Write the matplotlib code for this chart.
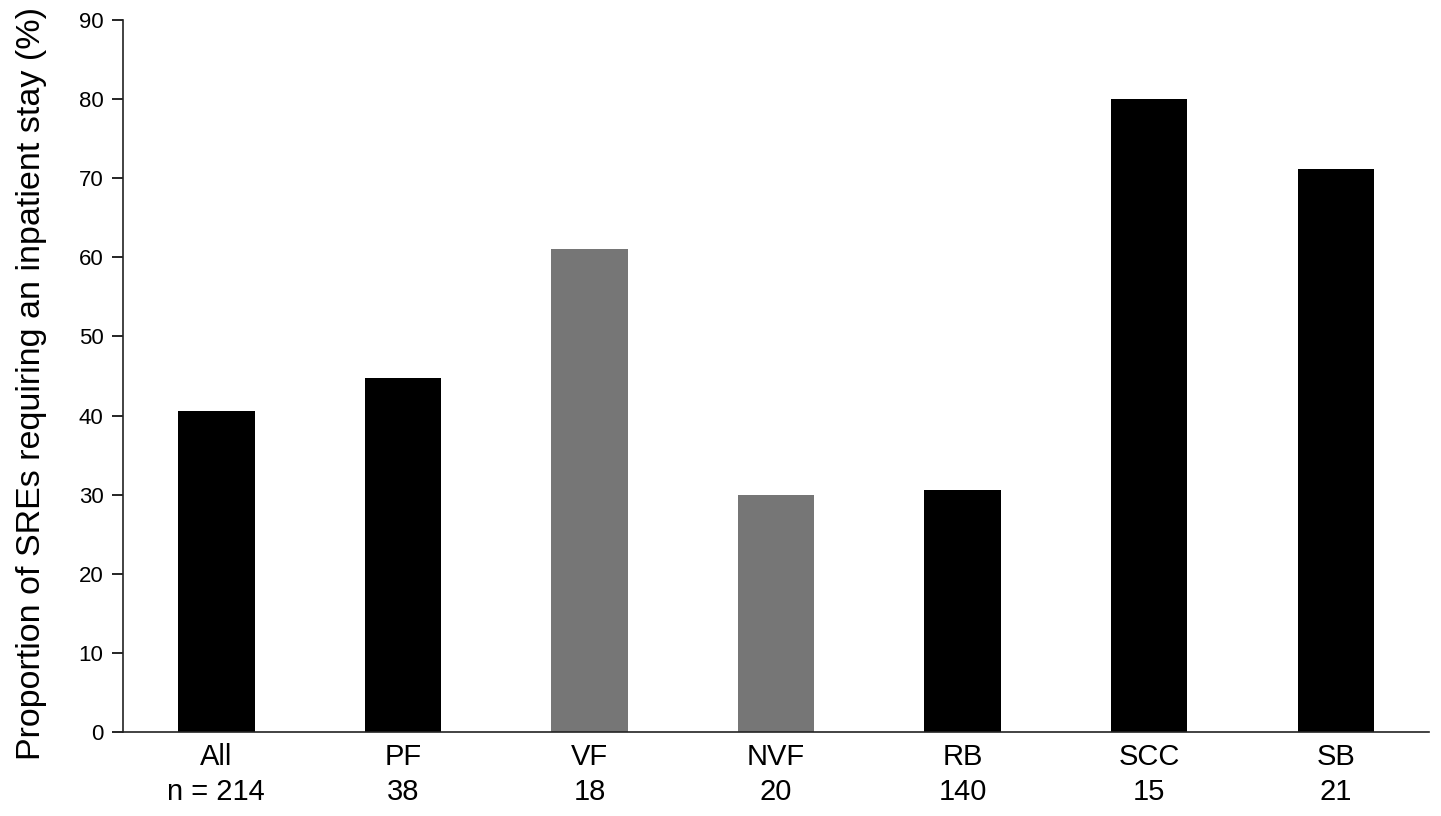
import matplotlib
matplotlib.use("Agg")
import matplotlib.pyplot as plt

categories = ["All", "PF", "VF", "NVF", "RB", "SCC", "SB"]
counts = ["n = 214", "38", "18", "20", "140", "15", "21"]
values = [40.6, 44.8, 61.1, 30.0, 30.6, 80.0, 71.2]
colors = ["#000000", "#000000", "#767676", "#767676", "#000000", "#000000", "#000000"]

plt.rcParams['font.family'] = ['Liberation Sans', 'DejaVu Sans']

fig = plt.figure(figsize=(14.41, 8.16), dpi=100)
ax = fig.add_axes([0.0854, 0.1029, 0.9063, 0.8726])

x = list(range(len(categories)))
ax.bar(x, values, width=0.41, color=colors)

ax.set_xlim(-0.5, 6.5)
ax.set_ylim(0, 90)
ax.set_yticks(range(0, 91, 10))
ax.set_xticks(x)
ax.set_xticklabels([f"{c}\n{n}" for c, n in zip(categories, counts)], fontsize=21, linespacing=1.3)
ax.tick_params(axis='x', length=0, pad=8)
ax.tick_params(axis='y', length=8, width=1.2, labelsize=16, pad=6, direction='out')
ax.spines['top'].set_visible(False)
ax.spines['right'].set_visible(False)
for s in ['left', 'bottom']:
    ax.spines[s].set_linewidth(1.2)
    ax.spines[s].set_color('#222222')
ax.set_ylabel("Proportion of SREs requiring an inpatient stay (%)", fontsize=24.5)
ax.yaxis.set_label_coords(-0.058, 0.4888)

fig.savefig("out.png", dpi=100)
